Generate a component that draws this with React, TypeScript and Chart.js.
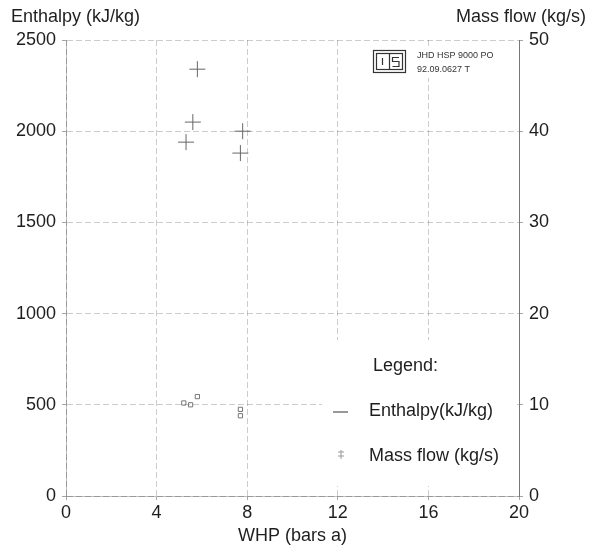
import React, { useEffect, useRef } from "react";
import { Chart, registerables } from "chart.js";

Chart.register(...registerables);

const whpTicks = [0, 4, 8, 12, 16, 20];
const enthalpyWhp = [5.8, 5.6, 5.3, 7.8, 7.7];
const enthalpyValues = [2340, 2050, 1940, 2000, 1880];
const massFlowWhp = [5.2, 5.5, 5.8, 7.7, 7.7];
const massFlowValues = [10.2, 10.0, 10.9, 9.5, 8.8];
const legendLabels = ["Enthalpy(kJ/kg)", "Mass flow (kg/s)"];
const logoLines = ["JHD HSP 9000 PO", "92.09.0627 T"];

const FONT = "'Liberation Sans', Arial, Helvetica, sans-serif";
const TXT = "#1e1e1e";

const overlay = {
  id: "overlay",
  beforeDatasetsDraw(chart: any) {
    const ctx = chart.ctx;
    ctx.save();
    ctx.fillStyle = "#fff";
    ctx.fillRect(322, 340, 194, 146);
    ctx.fillRect(368, 46, 148, 32);
    ctx.restore();
  },
  afterDraw(chart: any) {
    const ctx = chart.ctx;
    ctx.save();
    ctx.fillStyle = TXT;
    ctx.textBaseline = "middle";
    ctx.font = `18px ${FONT}`;
    ctx.textAlign = "left";
    ctx.fillText("Enthalpy (kJ/kg)", 11, 17);
    ctx.textAlign = "right";
    ctx.fillText("Mass flow (kg/s)", 586, 17);
    ctx.textAlign = "left";
    ctx.fillText("Legend:", 373, 366);
    ctx.fillText(legendLabels[0], 369, 411);
    ctx.fillText(legendLabels[1], 369, 456);
    ctx.strokeStyle = "#777";
    ctx.lineWidth = 1.5;
    ctx.beginPath();
    ctx.moveTo(333, 412);
    ctx.lineTo(348, 412);
    ctx.stroke();
    ctx.lineWidth = 1;
    ctx.strokeStyle = "#999";
    ctx.beginPath();
    ctx.moveTo(338, 452);
    ctx.lineTo(344, 452);
    ctx.moveTo(338, 456);
    ctx.lineTo(344, 456);
    ctx.moveTo(341, 450);
    ctx.lineTo(341, 459);
    ctx.stroke();
    ctx.strokeStyle = "#333";
    ctx.lineWidth = 1.2;
    ctx.strokeRect(373.5, 50.5, 32, 22);
    ctx.strokeRect(376.5, 53.5, 26, 16);
    ctx.beginPath();
    ctx.moveTo(389.5, 53.5);
    ctx.lineTo(389.5, 69.5);
    ctx.moveTo(382.5, 58);
    ctx.lineTo(382.5, 65);
    ctx.moveTo(399, 57.5);
    ctx.lineTo(392.5, 57.5);
    ctx.lineTo(392.5, 61.5);
    ctx.lineTo(399, 61.5);
    ctx.lineTo(399, 66.5);
    ctx.lineTo(392.5, 66.5);
    ctx.stroke();
    ctx.fillStyle = "#333";
    ctx.font = `9px ${FONT}`;
    ctx.fillText(logoLines[0], 417, 56);
    ctx.fillText(logoLines[1], 417, 70);
    ctx.restore();
  },
};

export default function App() {
  const ref = useRef<HTMLCanvasElement | null>(null);
  useEffect(() => {
    if (!ref.current) return;
    const grid = {
      color: "rgba(0,0,0,0.2)",
      lineWidth: 1,
      tickLength: 4,
      tickColor: "rgba(0,0,0,0.35)",
    };
    const fmt = (v: any) => String(v);
    const chart = new Chart(ref.current, {
      type: "scatter",
      data: {
        datasets: [
          {
            label: legendLabels[0],
            data: enthalpyWhp.map((x, i) => ({ x, y: enthalpyValues[i] })),
            yAxisID: "y",
            pointStyle: "cross",
            pointRadius: 8,
            borderColor: "#666",
            backgroundColor: "#666",
            borderWidth: 1,
          },
          {
            label: legendLabels[1],
            data: massFlowWhp.map((x, i) => ({ x, y: massFlowValues[i] })),
            yAxisID: "y1",
            pointStyle: "rect",
            pointRadius: 3,
            borderColor: "#777",
            backgroundColor: "rgba(0,0,0,0)",
            borderWidth: 1,
          },
        ],
      },
      options: {
        animation: false,
        responsive: false,
        maintainAspectRatio: false,
        layout: { padding: { top: 40, left: 0, right: 0, bottom: 0 } },
        plugins: { legend: { display: false }, tooltip: { enabled: false } },
        scales: {
          x: {
            type: "linear",
            min: 0,
            max: 20,
            afterBuildTicks: (s: any) => {
              s.ticks = whpTicks.map((v) => ({ value: v }));
            },
            afterFit: (s: any) => {
              s.height = 53;
            },
            ticks: { color: TXT, font: { family: FONT, size: 18 }, padding: 2, callback: fmt },
            grid: grid as any,
            border: { display: true, color: "rgba(0,0,0,0.25)", dash: [6, 3] },
            title: {
              display: true,
              text: "WHP (bars a)",
              color: TXT,
              font: { family: FONT, size: 18 },
              padding: { top: 0, bottom: 2 },
            },
          },
          y: {
            type: "linear",
            position: "left",
            min: 0,
            max: 2500,
            ticks: { stepSize: 500, color: TXT, font: { family: FONT, size: 18 }, padding: 6, callback: fmt },
            afterFit: (s: any) => {
              s.width = 66;
            },
            grid: grid as any,
            border: { display: true, color: "rgba(0,0,0,0.25)", dash: [6, 3] },
          },
          y1: {
            type: "linear",
            position: "right",
            min: 0,
            max: 50,
            ticks: { stepSize: 10, color: TXT, font: { family: FONT, size: 18 }, padding: 6, callback: fmt },
            afterFit: (s: any) => {
              s.width = 80;
            },
            grid: { ...grid, drawOnChartArea: false },
            border: { display: true, color: "#777" },
          },
        },
      },
      plugins: [overlay],
    } as any);
    return () => chart.destroy();
  }, []);
  return (
    <div style={{ position: "fixed", left: 0, top: 0, width: 599, height: 549, background: "#fff" }}>
      <canvas ref={ref} width={599} height={549} style={{ width: 599, height: 549 }} />
    </div>
  );
}
